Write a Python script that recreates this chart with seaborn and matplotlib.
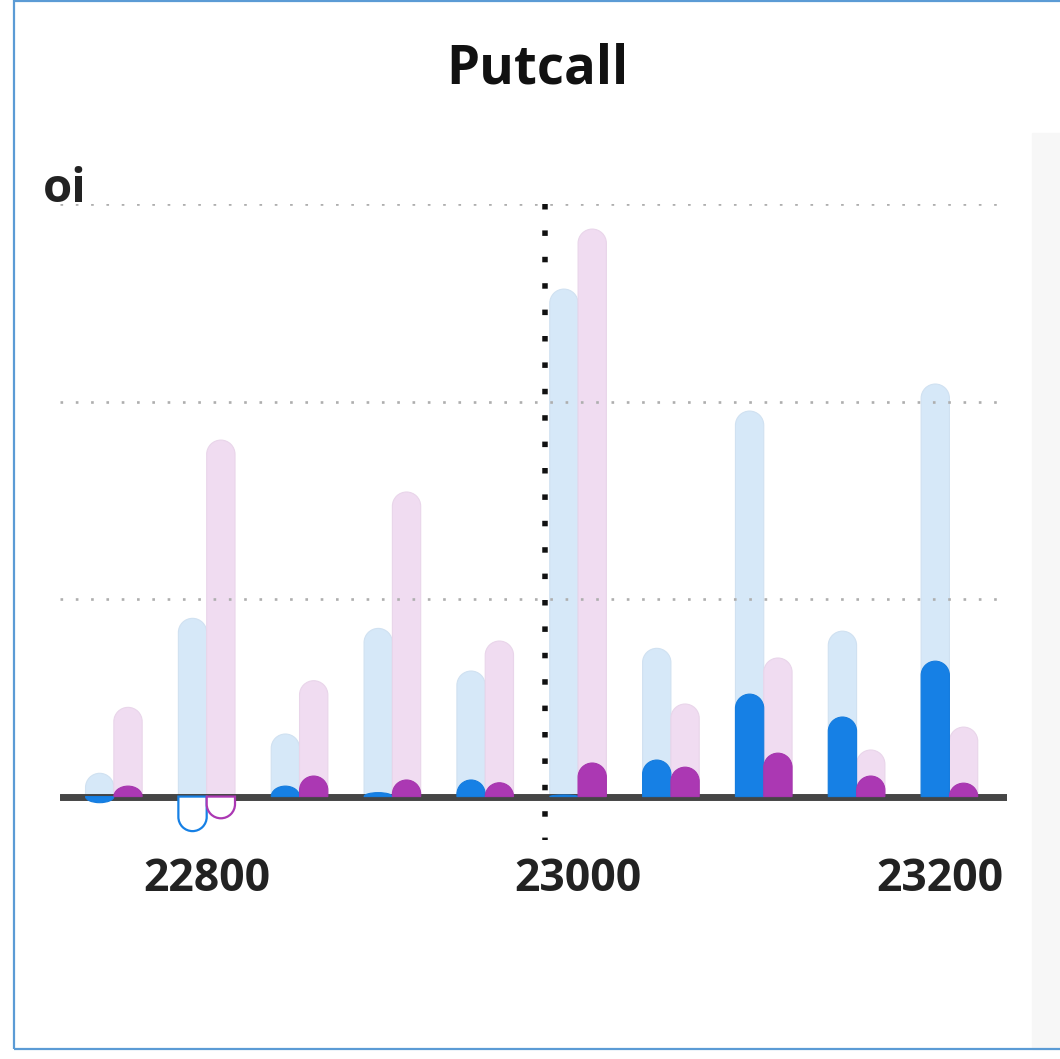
import numpy as np
import pandas as pd
import seaborn as sns
import matplotlib.pyplot as plt
from matplotlib.path import Path
from matplotlib.patches import PathPatch, Rectangle
from matplotlib.transforms import ScaledTranslation

# strikes and open interest (grid step = 1000)
strikes = [22750, 22800, 22850, 22900, 22950, 23000, 23050, 23100, 23150, 23200]
call_oi = [118, 903, 317, 852, 636, 2571, 751, 1953, 838, 2090]
put_oi = [452, 1806, 587, 1543, 788, 2875, 469, 702, 236, 352]
call_chg = [-31, -175, 53, 20, 84, 8, 185, 519, 403, 686]
put_chg = [53, -110, 104, 84, 70, 170, 149, 220, 104, 68]
spot = 22982
grid_ticks = [0, 1000, 2000, 3000]
xticks = [22800, 23000, 23200]

sns.set_theme(style="white")
plt.rcParams['font.family'] = ['Open Sans', 'DejaVu Sans']

df = pd.DataFrame({
    'strike': strikes * 2,
    'side': ['call'] * len(strikes) + ['put'] * len(strikes),
    'oi': call_oi + put_oi,
    'chg': call_chg + put_chg,
})

light = {'call': '#d6e8f8', 'put': '#f0dcf1'}
dark = {'call': '#1680e5', 'put': '#ab38b3'}

fig = plt.figure(figsize=(10.6, 10.59), dpi=100)
ax = fig.add_axes([60 / 1060, 1 - 840 / 1059, 947 / 1060, 636 / 1059])
ax.patch.set_alpha(0)

sns.barplot(data=df, x='strike', y='oi', hue='side', hue_order=['call', 'put'],
            palette=light, native_scale=True, width=0.61, errorbar=None,
            saturation=1, legend=False, ax=ax)
n_light = len(ax.containers)
sns.barplot(data=df, x='strike', y='chg', hue='side', hue_order=['call', 'put'],
            palette=dark, native_scale=True, width=0.61, errorbar=None,
            saturation=1, legend=False, ax=ax)

ax.set_xlim(22721, 23231)
ax.set_ylim(-220, 3002)

# radius of the rounded bar ends, in y data units
t = ax.transData
sx = t.transform((1, 0))[0] - t.transform((0, 0))[0]
sy = t.transform((0, 1))[1] - t.transform((0, 0))[1]


def round_bars(bars, z, edge_dark=False):
    for p in bars:
        x0, w, h = p.get_x(), p.get_width(), p.get_height()
        fc = p.get_facecolor()
        p.remove()
        if np.isnan(h) or h == 0:
            continue
        s = 1 if h > 0 else -1
        rmax = w * sx / 2 / sy
        r = min(rmax, abs(h))
        arc = Path.arc(0, 180) if s > 0 else Path.arc(180, 360)
        av = arc.vertices * [w / 2, r] + [x0 + w / 2, h - s * r]
        verts = [(av[0][0], 0)] + [tuple(v) for v in av] + [(av[-1][0], 0), (0, 0)]
        codes = [Path.MOVETO, Path.LINETO] + list(arc.codes[1:]) + [Path.LINETO, Path.CLOSEPOLY]
        if s < 0 and edge_dark and abs(h) >= rmax:
            patch = PathPatch(Path(verts, codes), facecolor='white', edgecolor=fc,
                              lw=1.6, zorder=z)
        else:
            ec = tuple(np.clip(np.array(fc[:3]) * 0.97, 0, 1))
            patch = PathPatch(Path(verts, codes), facecolor=fc, edgecolor=ec,
                              lw=0.8, zorder=z)
        ax.add_patch(patch)


for i, cont in enumerate(list(ax.containers)):
    if i < n_light:
        round_bars(list(cont), 1)
    else:
        round_bars(list(cont), 3, edge_dark=True)

ax.set_yticks(grid_ticks)
ax.yaxis.grid(True, color='#aeaeae', lw=1.9, linestyle=(0, (1, 4.8)))
ax.xaxis.grid(False)
ax.set_axisbelow('line')
ax.axhline(0, color='#454545', lw=5, zorder=2)
sl = ax.axvline(spot, color='#111111', lw=3.96, linestyle=(0, (1, 3.8)),
                dash_capstyle='butt', zorder=5)
sl.set_ydata([1, 0])

for sp in ax.spines.values():
    sp.set_visible(False)
ax.set_xticks(xticks)
ax.set_xticklabels([str(x) for x in xticks], fontsize=32, fontweight='bold', color='#222222')
ax.tick_params(axis='x', length=0, pad=12)
ax.tick_params(axis='y', left=False, labelleft=False)
ax.set_xlabel('')
ax.set_ylabel('')
# last label is kept inside the chart edge
last = ax.get_xticklabels()[-1]
last.set_transform(last.get_transform() + ScaledTranslation(-0.1, 0, fig.dpi_scale_trans))

fig.text(537 / 1060, 1 - 83 / 1059, 'Putcall', ha='center', va='baseline',
         fontsize=38, fontweight='bold', color='#111111')
fig.text(43 / 1060, 1 - 202 / 1059, 'oi', ha='left', va='baseline',
         fontsize=34, fontweight='bold', color='#222222')

# side panel and frame
fig.add_artist(Rectangle((1032 / 1060, 1 - 1049 / 1059), 0.05, 916 / 1059,
                         transform=fig.transFigure, color='#f7f7f7', zorder=-1))
fig.add_artist(Rectangle((14 / 1060, 1 - 1049 / 1059), 1.0, 1048 / 1059,
                         transform=fig.transFigure, fill=False,
                         edgecolor='#5b9bd5', lw=1.6))

fig.savefig('out.png', dpi=100)
